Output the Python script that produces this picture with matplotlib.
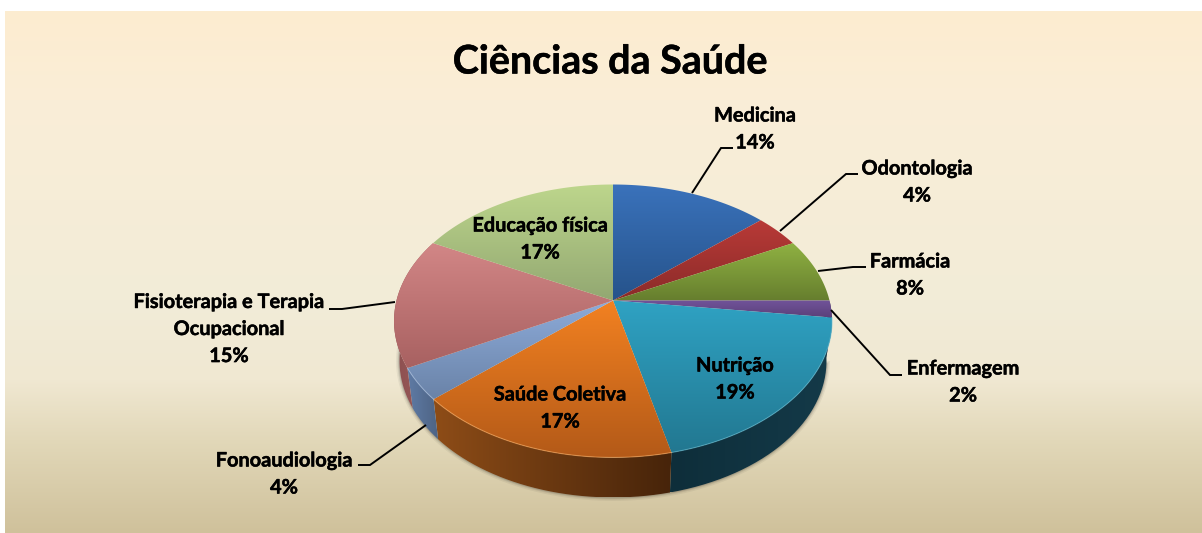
import numpy as np
import matplotlib
matplotlib.use("Agg")
import matplotlib.pyplot as plt
import matplotlib.patheffects as pe
from matplotlib.colors import to_rgb
from matplotlib.path import Path
from matplotlib.patches import PathPatch
from matplotlib.transforms import Affine2D

categories = ["Medicina", "Odontologia", "Farmácia", "Enfermagem", "Nutrição",
              "Saúde Coletiva", "Fonoaudiologia", "Fisioterapia e Terapia\nOcupacional",
              "Educação física"]
values = [13.5, 3.9, 7.6, 2.0, 19.3, 17.1, 3.8, 15.4, 17.4]
title = "Ciências da Saúde"

face_top = ["#3a72bb", "#b93a37", "#8fb142", "#71539a", "#2fa2c3", "#f28121", "#8dabd9", "#d28686", "#bdd68c"]
face_bot = ["#26538b", "#8b2b29", "#667e2e", "#5a4079", "#227891", "#b45a18", "#6a83a8", "#a86161", "#93a872"]
side_l = [None, None, None, "#3d2c55", "#0e2e3a", "#8d4c17", "#5f7ba5", "#a05f5f", None]
side_r = [None, None, None, "#3d2c55", "#143a49", "#47240a", "#4e6485", "#8c4f4f", None]
rim_col = [None, None, None, None, "#5cb8d2", "#f7a65c", "#a9c0e2", None, None]

label_pos = [(755, 129), (917, 182), (910, 275), (963, 382), (735, 379),
             (560, 408), (284, 474), (229, 329), (540, 239)]
leaders = [[(692, 193), (721, 148), (733, 148)],
           [(780, 231), (846, 174), (858, 174)],
           [(818, 271), (853, 267), (866, 267)],
           [(831, 310), (890, 375), (902, 375)],
           None, None,
           [(426, 425), (370, 465), (358, 465)],
           [(395, 302), (342, 309), (329, 309)],
           None]

bg_y = [11, 100, 300, 380, 440, 533]
bg_c = [(253, 236, 208), (250, 238, 215), (242, 236, 216), (240, 232, 210), (226, 216, 185), (207, 193, 155)]

W, H = 1202, 533
CX, CY, A, B, K, DEPTH, SHR = 613.0, 300.5, 133.4, 216.5, 0.15, 40.0, 0.975


def project(xy, lower=False):
    xy = np.asarray(xy, float)
    u, v = xy[..., 0], xy[..., 1]
    d = 1 + K * v
    x, y = B * u / d, -A * v / d
    if lower:
        x = x * SHR
        y = y + DEPTH
    return np.stack([CX + x, CY + y], axis=-1)


fig = plt.figure(figsize=(W / 100, H / 100), dpi=100)
ax = fig.add_axes([0, 0, 1, 1])
plt.rcParams["font.family"] = ["Lato", "DejaVu Sans"]

wedges, _ = ax.pie(values, startangle=90, counterclock=False, radius=1.0, center=(0, 0))
ax.set_aspect("auto")
ax.set_autoscale_on(False)
ax.set_xlim(0, W)
ax.set_ylim(H, 0)
ax.axis("off")
fig.patch.set_facecolor("white")


def grad_img(c0, c1, extent, horizontal, z, clip):
    c0, c1 = np.array(to_rgb(c0)), np.array(to_rgb(c1))
    t = np.linspace(0, 1, 64)[:, None]
    col = c0 * (1 - t) + c1 * t
    arr = col[None, :, :] if horizontal else col[:, None, :]
    im = ax.imshow(arr, extent=extent, origin="upper", aspect="auto", zorder=z,
                   interpolation="bilinear")
    im.set_clip_path(clip)
    return im


# background
ys = np.arange(bg_y[0], H + 1)
bg = np.stack([np.interp(ys, bg_y, [c[i] for c in bg_c]) for i in range(3)], axis=1) / 255.0
ax.imshow(bg[:, None, :], extent=(5, W, H, bg_y[0]), origin="upper", aspect="auto", zorder=0)

# soft shadow under the lower rim
th_all = np.radians(np.linspace(-10, -190, 200))
low_all = project(np.stack([np.cos(th_all), np.sin(th_all)], axis=1), lower=True)
for lw, al in [(5, 0.05), (3, 0.08), (1.5, 0.12)]:
    ax.plot(low_all[:, 0], low_all[:, 1], color="black", lw=lw, alpha=al, zorder=0.5)

for i, w in enumerate(wedges):
    th = np.radians(np.linspace(w.theta1, w.theta2, 100))
    rim = np.stack([np.cos(th), np.sin(th)], axis=1)
    upper = project(rim)
    lower = project(rim, lower=True)
    if side_l[i]:
        poly = np.vstack([upper, lower[::-1]])
        pp = PathPatch(Path(poly), facecolor="none", edgecolor="none", zorder=1 + i * 0.01,
                       transform=ax.transData)
        ax.add_patch(pp)
        flip = upper[0, 0] > upper[-1, 0]
        grad_img(side_r[i] if flip else side_l[i], side_l[i] if flip else side_r[i],
                 (poly[:, 0].min(), poly[:, 0].max(), poly[:, 1].max(), poly[:, 1].min()),
                 True, 1 + i * 0.01, pp)
    # top face: outline of the wedge from ax.pie, under the same projection
    w.set_visible(False)
    outline = w.get_path().to_polygons(Affine2D().scale(2000), closed_only=False)[0] / 2000.0
    ext = project(outline)
    clip = PathPatch(Path(ext), facecolor="none", edgecolor="none", transform=ax.transData, zorder=2)
    ax.add_patch(clip)
    grad_img(face_top[i], face_bot[i],
             (ext[:, 0].min(), ext[:, 0].max(), ext[:, 1].max(), ext[:, 1].min()),
             False, 2 + i * 0.01, clip)
    if rim_col[i]:
        ax.plot(upper[:, 0], upper[:, 1], color=rim_col[i], lw=0.8, alpha=0.6, zorder=3)

for lead in leaders:
    if lead:
        lx, ly = zip(*lead)
        ax.plot(lx, ly, color="black", lw=1.4, zorder=4, solid_capstyle="butt", solid_joinstyle="miter")

heavy = [pe.withStroke(linewidth=0.35, foreground="black")]
for cat, val, pos in zip(categories, values, label_pos):
    ax.text(pos[0], pos[1], f"{cat}\n{val:.0f}%", ha="center", va="center", fontsize=14.35,
            fontweight="bold", color="black", linespacing=1.44, zorder=5, path_effects=heavy)

ax.text(610, 62, title, ha="center", va="center", fontsize=28.4, fontweight="bold", color="black",
        zorder=5, path_effects=heavy)
fig.savefig("out.png", dpi=100, facecolor="white")
